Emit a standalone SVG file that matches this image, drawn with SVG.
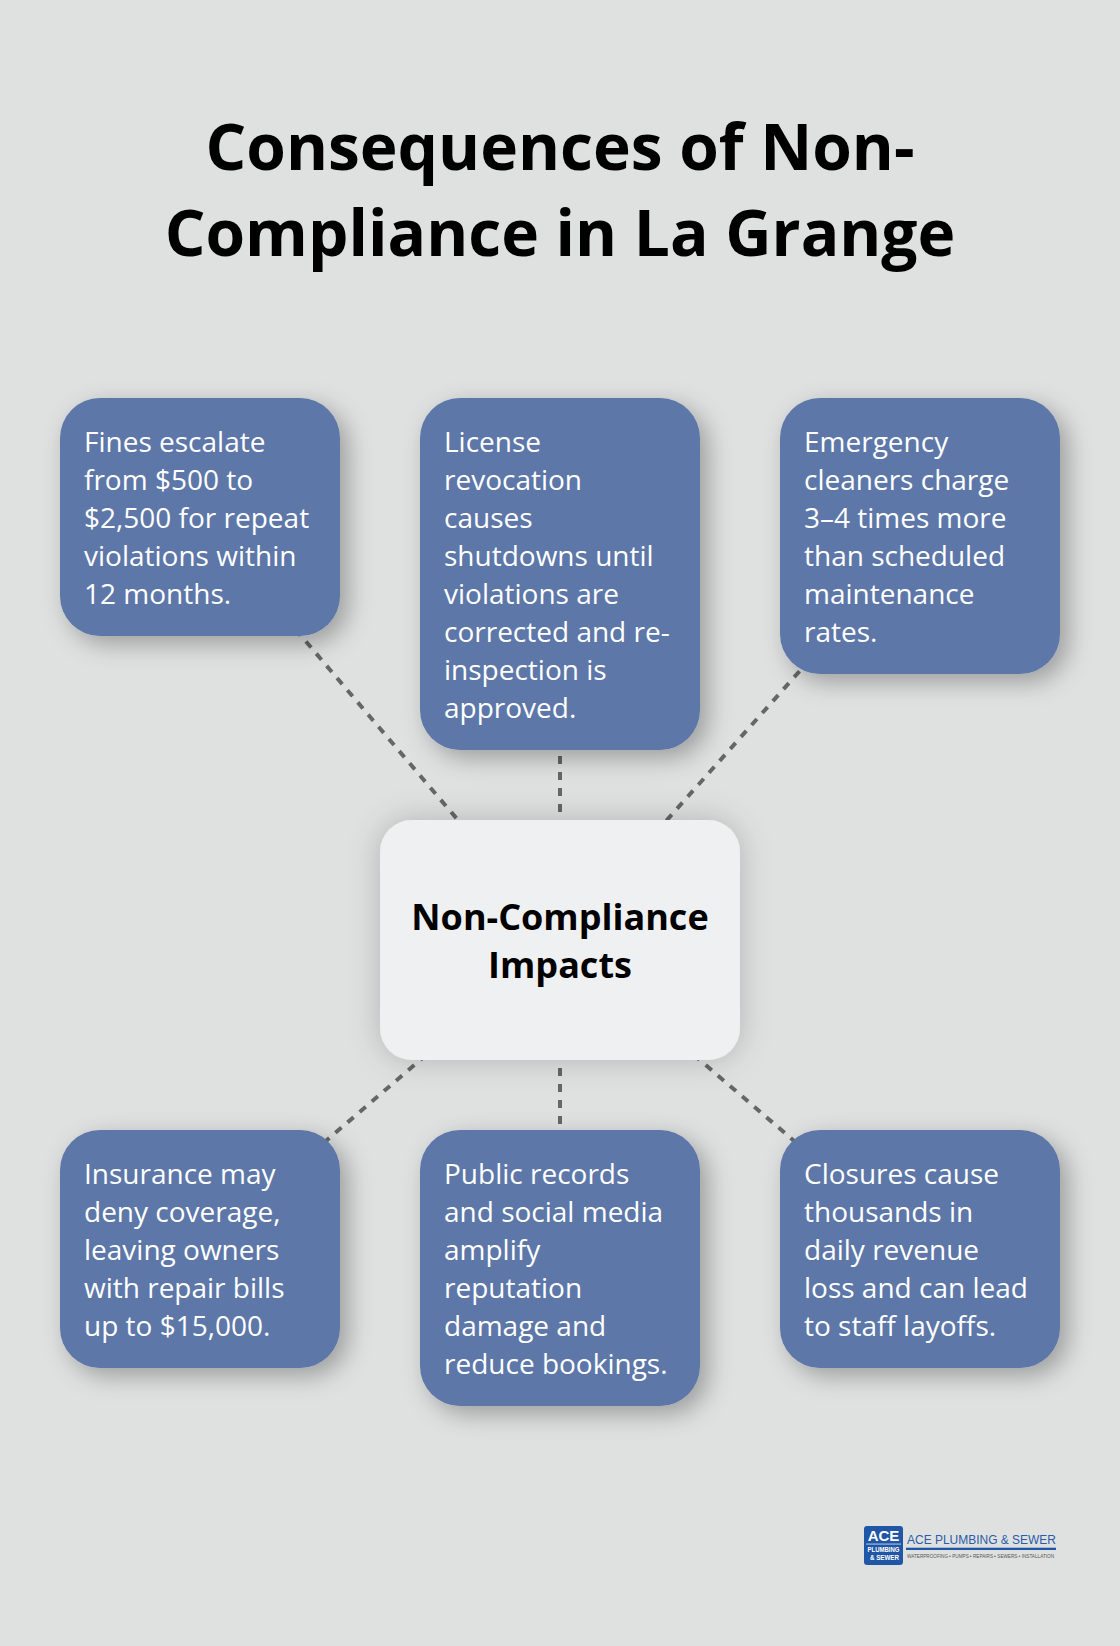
<svg xmlns="http://www.w3.org/2000/svg" width="1120" height="1646" viewBox="0 0 1120 1646">
<defs>
<filter id="s1" x="-30%" y="-30%" width="170%" height="170%"><feDropShadow dx="8" dy="8" stdDeviation="12" flood-color="#000" flood-opacity="0.3"/></filter>
<filter id="s2" x="-30%" y="-30%" width="160%" height="160%"><feDropShadow dx="0" dy="0" stdDeviation="16" flood-color="#000" flood-opacity="0.2"/></filter>
</defs>
<style>
text{font-family:"Open Sans","Noto Sans",sans-serif}
.b{fill:#5d77a8;filter:url(#s1)}
.t{font-size:28px;fill:#fff}
.c{font-size:36px;font-weight:700;fill:#000;text-anchor:middle}
.h{font-size:64px;font-weight:700;fill:#000;text-anchor:middle}
.l{stroke:#666;stroke-width:4;stroke-dasharray:8 8;fill:none}
.g{font-family:"Liberation Sans",sans-serif}
</style>
<rect width="1120" height="1646" fill="#dfe1e0"/>
<g id="title">
<text class="h" x="560" y="170">Consequences of Non-</text>
<text class="h" x="560" y="256">Compliance in La Grange</text>
</g>
<g id="connectors">
<line class="l" x1="560" y1="940" x2="200" y2="517"/>
<line class="l" x1="560" y1="940" x2="560" y2="574"/>
<line class="l" x1="560" y1="940" x2="920" y2="536"/>
<line class="l" x1="560" y1="940" x2="200" y2="1249"/>
<line class="l" x1="560" y1="940" x2="560" y2="1287"/>
<line class="l" x1="560" y1="940" x2="920" y2="1249"/>
</g>
<g id="center">
<rect x="380" y="820" width="360" height="240" rx="32" fill="#eff0f2" filter="url(#s2)"/>
<text class="c" x="560" y="930">Non-Compliance</text>
<text class="c" x="560" y="978">Impacts</text>
</g>
<g id="n1">
<rect class="b" x="60" y="398" width="280" height="238" rx="40"/>
<text class="t" x="84" y="452">Fines escalate</text>
<text class="t" x="84" y="490">from $500 to</text>
<text class="t" x="84" y="528">$2,500 for repeat</text>
<text class="t" x="84" y="566">violations within</text>
<text class="t" x="84" y="604">12 months.</text>
</g>
<g id="n2">
<rect class="b" x="420" y="398" width="280" height="352" rx="40"/>
<text class="t" x="444" y="452">License</text>
<text class="t" x="444" y="490">revocation</text>
<text class="t" x="444" y="528">causes</text>
<text class="t" x="444" y="566">shutdowns until</text>
<text class="t" x="444" y="604">violations are</text>
<text class="t" x="444" y="642">corrected and re-</text>
<text class="t" x="444" y="680">inspection is</text>
<text class="t" x="444" y="718">approved.</text>
</g>
<g id="n3">
<rect class="b" x="780" y="398" width="280" height="276" rx="40"/>
<text class="t" x="804" y="452">Emergency</text>
<text class="t" x="804" y="490">cleaners charge</text>
<text class="t" x="804" y="528">3–4 times more</text>
<text class="t" x="804" y="566">than scheduled</text>
<text class="t" x="804" y="604">maintenance</text>
<text class="t" x="804" y="642">rates.</text>
</g>
<g id="n4">
<rect class="b" x="60" y="1130" width="280" height="238" rx="40"/>
<text class="t" x="84" y="1184">Insurance may</text>
<text class="t" x="84" y="1222">deny coverage,</text>
<text class="t" x="84" y="1260">leaving owners</text>
<text class="t" x="84" y="1298">with repair bills</text>
<text class="t" x="84" y="1336">up to $15,000.</text>
</g>
<g id="n5">
<rect class="b" x="420" y="1130" width="280" height="276" rx="40"/>
<text class="t" x="444" y="1184">Public records</text>
<text class="t" x="444" y="1222">and social media</text>
<text class="t" x="444" y="1260">amplify</text>
<text class="t" x="444" y="1298">reputation</text>
<text class="t" x="444" y="1336">damage and</text>
<text class="t" x="444" y="1374">reduce bookings.</text>
</g>
<g id="n6">
<rect class="b" x="780" y="1130" width="280" height="238" rx="40"/>
<text class="t" x="804" y="1184">Closures cause</text>
<text class="t" x="804" y="1222">thousands in</text>
<text class="t" x="804" y="1260">daily revenue</text>
<text class="t" x="804" y="1298">loss and can lead</text>
<text class="t" x="804" y="1336">to staff layoffs.</text>
</g>
<g id="logo">
<rect x="864" y="1526" width="39" height="39" rx="3" fill="#1f57a6"/>
<text class="g" x="883.5" y="1541" text-anchor="middle" font-size="15" font-weight="700" fill="#fff">ACE</text>
<rect x="866" y="1543.7" width="35" height="0.7" fill="#fff"/>
<text class="g" x="867.5" y="1552" font-size="6.5" font-weight="700" fill="#fff" textLength="32" lengthAdjust="spacingAndGlyphs">PLUMBING</text>
<text class="g" x="870" y="1560" font-size="6.5" font-weight="700" fill="#fff" textLength="29" lengthAdjust="spacingAndGlyphs">&amp; SEWER</text>
<text class="g" x="907" y="1544.3" font-size="13.4" fill="#2a5ca8" textLength="149" lengthAdjust="spacingAndGlyphs">ACE PLUMBING &amp; SEWER</text>
<rect x="906" y="1547.7" width="150" height="2.3" fill="#1f57a6"/>
<text class="g" x="907" y="1558" font-size="5.4" fill="#555" textLength="147" lengthAdjust="spacingAndGlyphs">WATERPROOFING ▪ PUMPS ▪ REPAIRS ▪ SEWERS ▪ INSTALLATION</text>
</g>
</svg>
